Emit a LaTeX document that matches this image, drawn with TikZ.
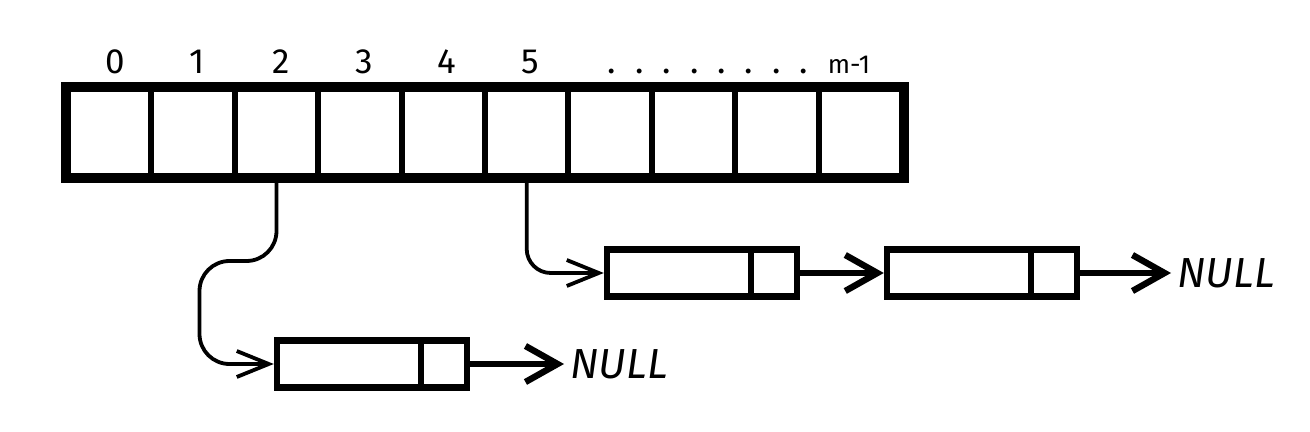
\documentclass[tikz,border=0pt]{standalone}
\usepackage{fontspec}
\setmainfont{Fira Sans}
\usetikzlibrary{arrows.meta}

\tikzset{
  cell/.style={draw, line width=3pt, minimum width=41.7pt, minimum height=43.5pt, inner sep=0pt},
  datafield/.style={draw, line width=3.2pt, minimum width=72pt, minimum height=23.5pt, inner sep=0pt},
  ptrfield/.style={draw, line width=3.2pt, minimum width=23pt, minimum height=23.5pt, inner sep=0pt},
  idx/.style={anchor=base, inner sep=0pt, font=\fontsize{17.5}{20}\selectfont},
  nullptr/.style={anchor=base west, inner sep=3pt, font=\fontsize{21}{24}\selectfont\itshape},
  link/.style={line width=1.9pt, line cap=round, line join=round, -{Straight Barb[length=16pt,width=13pt]}},
  next/.style={line width=3.2pt, -{Straight Barb[length=16pt,width=18pt]}}
}

\begin{document}
\begin{tikzpicture}[x=0.5pt,y=-0.5pt]
      \useasboundingbox (0,0) rectangle (1310,432);
      % the table
      \path
        (109.7,132.5) node[cell] (c0){}
        (193.1,132.5) node[cell] (c1){}
        (276.5,132.5) node[cell] (c2){}
        (359.9,132.5) node[cell] (c3){}
        (443.3,132.5) node[cell] (c4){}
        (526.7,132.5) node[cell] (c5){}
        (610.1,132.5) node[cell] (c6){}
        (693.5,132.5) node[cell] (c7){}
        (776.9,132.5) node[cell] (c8){}
        (860.3,132.5) node[cell] (c9){};
      \draw[line width=4.2pt] (c0.north west) rectangle (c9.south east);
      \path
        (115,74) node[idx] (l0){0}
        (197,74) node[idx] (l1){1}
        (281,74) node[idx] (l2){2}
        (364,74) node[idx] (l3){3}
        (447,74) node[idx] (l4){4}
        (530,74) node[idx] (l5){5}
        (708,74) node[idx] (ldots){.\hspace{9.5pt}.\hspace{9.5pt}.\hspace{9.5pt}.\hspace{9.5pt}.\hspace{9.5pt}.\hspace{9.5pt}.\hspace{9.5pt}.}
        (849,74) node[idx, font=\fontsize{13}{15}\selectfont] (lm){m-1};
      % the lists
      \path
        (679,273) node[datafield] (d51){}
        (774,273) node[ptrfield] (p51){}
        (959,273) node[datafield] (d52){}
        (1054,273) node[ptrfield] (p52){}
        (1171,288) node[nullptr] (n5){NULL}
        (349,364) node[datafield] (d21){}
        (444,364) node[ptrfield] (p21){}
        (564,379) node[nullptr] (n2){NULL};
      \begin{scope}
        \draw[link, rounded corners=15pt] (c2.south) -- ++(0,82) -- ++(-77,0) |- (d21.west);
        \draw[link, rounded corners=12pt] (c5.south) |- (d51.west);
        \draw[next] (p51.east) -- (d52.west);
        \draw[next] (p52.east) -- (n5.west |- p52.east);
        \draw[next] (p21.east) -- (n2.west |- p21.east);
      \end{scope}
    \end{tikzpicture}
\end{document}
